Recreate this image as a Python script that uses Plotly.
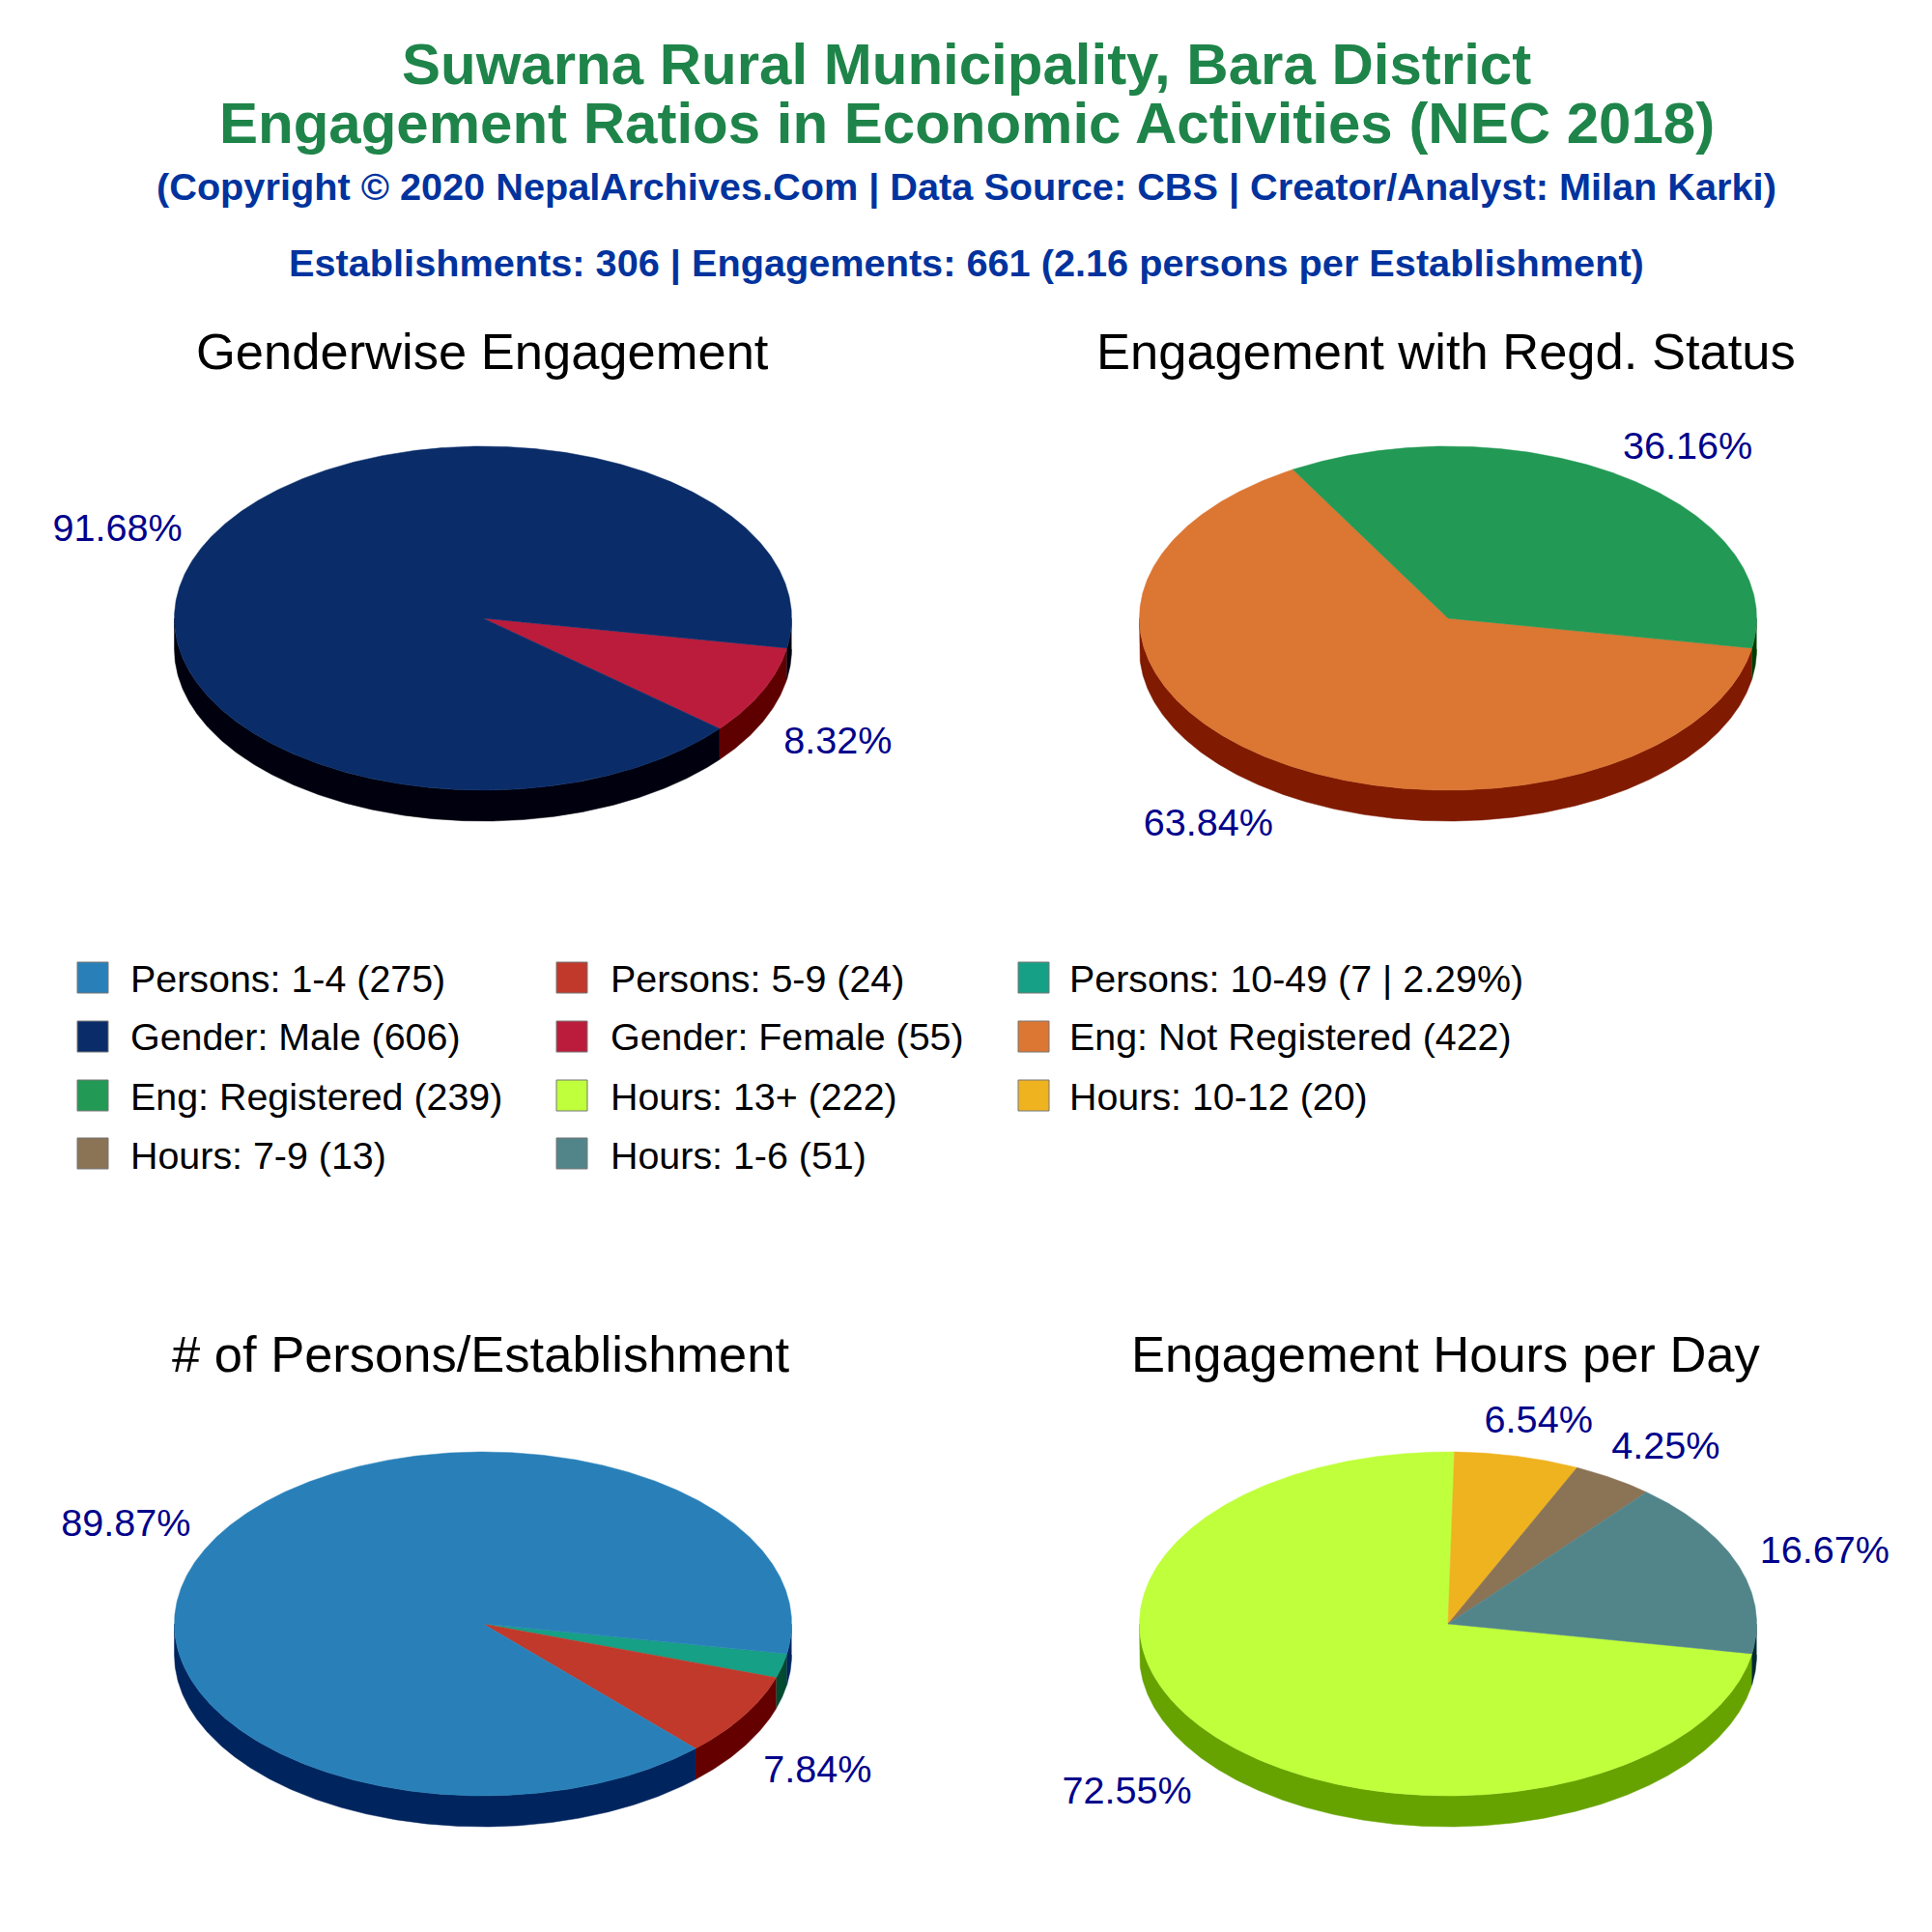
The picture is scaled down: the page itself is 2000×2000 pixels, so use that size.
import numpy as np
import plotly.graph_objects as go

W = H = 2000

# ---- data ----
gender_names = ["Gender: Female", "Gender: Male"]
gender_values = [55, 606]
regd_names = ["Eng: Not Registered", "Eng: Registered"]
regd_values = [422, 239]
persons_names = ["Persons: 10-49", "Persons: 5-9", "Persons: 1-4"]
persons_values = [7, 24, 275]
hours_names = ["Hours: 13+", "Hours: 10-12", "Hours: 7-9", "Hours: 1-6"]
hours_values = [222, 20, 13, 51]

legend_labels = [
    "Persons: 1-4 (275)", "Persons: 5-9 (24)", "Persons: 10-49 (7 | 2.29%)",
    "Gender: Male (606)", "Gender: Female (55)", "Eng: Not Registered (422)",
    "Eng: Registered (239)", "Hours: 13+ (222)", "Hours: 10-12 (20)",
    "Hours: 7-9 (13)", "Hours: 1-6 (51)",
]

# ---- style ----
gender_top = ["#BC1C3C", "#0A2D69"]
gender_side = ["#5E0000", "#00000F"]
regd_top = ["#DC7633", "#229954"]
regd_side = ["#801A00", "#003D00"]
persons_top = ["#16A085", "#C0392B", "#2980B9"]
persons_side = ["#004A30", "#650000", "#00255E"]
hours_top = ["#BFFF3B", "#EFB320", "#8B7355", "#52858A"]
hours_side = ["#66A300", "#935700", "#2F1700", "#002A30"]
legend_colors = [
    "#2980B9", "#C0392B", "#16A085", "#0A2D69", "#BC1C3C", "#DC7633",
    "#229954", "#BFFF3B", "#EFB320", "#8B7355", "#52858A",
]

FONT = "Liberation Sans, Arial, sans-serif"
START = 100.0
RX, RY, DEPTH = 319.5, 178.0, 32.0
D = DEPTH / RY
PAD = 1.5

panels = [
    dict(c=(500, 640), title="Genderwise Engagement", tx=499, ty=363,
         v=gender_values, n=gender_names, top=gender_top, side=gender_side),
    dict(c=(1499, 640), title="Engagement with Regd. Status", tx=1497, ty=363,
         v=regd_values, n=regd_names, top=regd_top, side=regd_side),
    dict(c=(500, 1681), title="# of Persons/Establishment", tx=497, ty=1401,
         v=persons_values, n=persons_names, top=persons_top, side=persons_side),
    dict(c=(1499, 1681), title="Engagement Hours per Day", tx=1497, ty=1401,
         v=hours_values, n=hours_names, top=hours_top, side=hours_side),
]


def arc(a, b):
    n = max(int(abs(b - a) * 2), 2)
    t = np.radians(np.linspace(a, b, n))
    return np.sin(t), np.cos(t)


fig = go.Figure()
layout_axes = {}
annotations = []

for i, p in enumerate(panels, start=2):
    cx, cy = p["c"]
    xn, yn = f"x{i}", f"y{i}"
    layout_axes[f"xaxis{i}"] = dict(
        domain=[(cx - RX * PAD) / W, (cx + RX * PAD) / W], range=[-PAD, PAD],
        visible=False, fixedrange=True, anchor=yn)
    layout_axes[f"yaxis{i}"] = dict(
        domain=[1 - (cy + RY * PAD) / H, 1 - (cy - RY * PAD) / H],
        range=[-PAD, PAD], visible=False, fixedrange=True, anchor=xn)

    vals = np.array(p["v"], dtype=float)
    total = vals.sum()
    spans = vals / total * 360
    starts = START + np.concatenate([[0], np.cumsum(spans)[:-1]])

    # side walls (only the part facing the viewer)
    for a0, sp, col in zip(starts, spans, p["side"]):
        for lo, hi in [(90, 270), (450, 630)]:
            a, b = max(a0, lo), min(a0 + sp, hi)
            if b <= a:
                continue
            sx, sy = arc(a, b)
            fig.add_trace(go.Scatter(
                x=np.concatenate([sx, sx[::-1]]).tolist(),
                y=np.concatenate([sy, sy[::-1] - D]).tolist(),
                mode="lines", fill="toself", fillcolor=col,
                line=dict(color=col, width=0.5), hoverinfo="skip",
                showlegend=False, xaxis=xn, yaxis=yn))
    # top faces
    for a0, sp, col, name, val in zip(starts, spans, p["top"], p["n"], vals):
        sx, sy = arc(a0, a0 + sp)
        fig.add_trace(go.Scatter(
            x=np.concatenate([[0], sx, [0]]).tolist(),
            y=np.concatenate([[0], sy, [0]]).tolist(),
            mode="lines", fill="toself", fillcolor=col,
            line=dict(color=col, width=0.5), name=name, hoverinfo="name",
            showlegend=False, xaxis=xn, yaxis=yn))
    # percent labels
    lx, ly, lt, lp = [], [], [], []
    for a0, sp, val in zip(starts, spans, vals):
        if val / total < 0.03:
            continue
        m = np.radians(a0 + sp / 2)
        s, c = float(np.sin(m)), float(np.cos(m))
        side = "right" if s > 0 else "left"
        if abs(s) >= 0.7:
            lx.append(1.075 * s)
            lp.append(f"middle {side}")
        elif abs(s) >= 0.4:
            lx.append(0.99 * s)
            lp.append(f"middle {side}")
        else:
            lx.append(1.31 * s)
            lp.append("middle center")
        ly.append(1.2 * c - (D + 0.045 if c < 0 else 0))
        lt.append(f"{val / total * 100:.2f}%")
    fig.add_trace(go.Scatter(
        x=lx, y=ly, text=lt, mode="text", textposition=lp,
        textfont=dict(family=FONT, size=39.6, color="#00008B"), cliponaxis=False,
        hoverinfo="skip", showlegend=False, xaxis=xn, yaxis=yn))
    annotations.append(dict(
        text=p["title"], x=p["tx"] / W, y=1 - p["ty"] / H, xref="paper", yref="paper",
        xanchor="center", yanchor="middle", showarrow=False,
        font=dict(family=FONT, size=52.5, color="#000000")))

# legend, laid out on a full-page pixel axis
layout_axes["xaxis"] = dict(domain=[0, 1], range=[0, W], visible=False,
                            fixedrange=True, anchor="y")
layout_axes["yaxis"] = dict(domain=[0, 1], range=[H, 0], visible=False,
                            fixedrange=True, anchor="x")
col_x = [96, 592, 1070]
text_x = [135, 632, 1107]
swatch_y = [1012, 1073, 1134, 1194]
row_y = [1017, 1077, 1139, 1200]
mx = [col_x[k % 3] for k in range(len(legend_labels))]
tx = [text_x[k % 3] for k in range(len(legend_labels))]
my = [swatch_y[k // 3] for k in range(len(legend_labels))]
ty = [row_y[k // 3] for k in range(len(legend_labels))]
fig.add_trace(go.Scatter(
    x=mx, y=my, mode="markers",
    marker=dict(symbol="square", size=32, color=legend_colors,
                line=dict(color="#777777", width=1)),
    hoverinfo="skip", showlegend=False, xaxis="x", yaxis="y"))
fig.add_trace(go.Scatter(
    x=tx, y=ty, text=legend_labels, mode="text", textposition="middle right",
    textfont=dict(family=FONT, size=39.4, color="#000000"), cliponaxis=False,
    hoverinfo="skip", showlegend=False, xaxis="x", yaxis="y"))

GREEN = "#1E8449"
BLUE = "#00339E"
for text, x, y, size, color in [
    ("Suwarna Rural Municipality, Bara District", 1001, 66, 60, GREEN),
    ("Engagement Ratios in Economic Activities (NEC 2018)", 1001, 127, 60, GREEN),
    ("(Copyright © 2020 NepalArchives.Com | Data Source: CBS | Creator/Analyst: Milan Karki)", 1000, 194, 39.7, BLUE),
    ("Establishments: 306 | Engagements: 661 (2.16 persons per Establishment)", 1000, 272, 39.7, BLUE),
]:
    annotations.append(dict(
        text=f"<b>{text}</b>", x=x / W, y=1 - y / H, xref="paper", yref="paper",
        xanchor="center", yanchor="middle", showarrow=False,
        font=dict(family=FONT, size=size, color=color)))

fig.update_layout(
    width=W, height=H, margin=dict(l=0, r=0, t=0, b=0), autosize=False,
    paper_bgcolor="#FFFFFF", plot_bgcolor="rgba(0,0,0,0)", showlegend=False,
    annotations=annotations, **layout_axes)

fig.write_html("out.html", post_script="document.body.style.margin='0';",
               config={"displayModeBar": False})
